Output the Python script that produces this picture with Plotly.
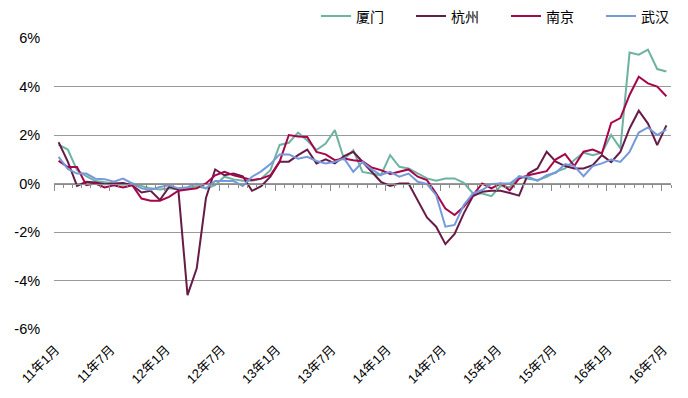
import plotly.graph_objects as go

months = [f"{y}年{m}月" for y in range(11, 17) for m in range(1, 13)][:67]

xiamen = [1.6, 1.4, 0.55, 0.3, 0.1, 0.05, 0.0, -0.05, 0.0, -0.1, -0.2, -0.25,
          -0.2, -0.25, -0.2, -0.1, -0.2, -0.07, 0.28, 0.17, 0.11, 0.11, 0.2, 0.55,
          1.59, 1.68, 2.1, 1.77, 1.38, 1.65, 2.2, 1.0, 1.37, 0.48, 0.41, 0.34,
          1.17, 0.69, 0.62, 0.41, 0.21, 0.11, 0.21, 0.21, 0.03, -0.41, -0.41, -0.52,
          -0.1, -0.15, 0.3, 0.2, 0.14, 0.28, 0.48, 0.62, 0.97, 1.27, 1.17, 1.27,
          2.0, 1.45, 5.4, 5.31, 5.52, 4.72, 4.62]
hangzhou = [1.7, 0.9, -0.1, 0.07, 0.04, -0.03, 0.0, 0.02, -0.07, -0.37, -0.3, -0.68,
            -0.14, -0.25, -4.6, -3.5, -0.6, 0.58, 0.34, 0.41, 0.3, -0.3, -0.11, 0.28,
            0.9, 0.9, 1.17, 1.4, 0.83, 1.0, 0.83, 1.13, 1.31, 0.9, 0.48, 0.07,
            -0.1, 0.0, 0.0, -0.68, -1.4, -1.78, -2.5, -2.08, -1.23, -0.52, -0.34, -0.3,
            -0.3, -0.39, -0.5, 0.41, 0.62, 1.31, 0.9, 0.72, 0.62, 0.62, 0.76, 1.17,
            0.88, 1.3, 2.27, 3.0, 2.47, 1.58, 2.4]
nanjing = [0.93, 0.68, 0.68, -0.07, 0.0, -0.16, -0.07, -0.16, -0.07, -0.62, -0.71, -0.71,
           -0.55, -0.3, -0.25, -0.2, 0.0, 0.34, 0.48, 0.34, 0.25, 0.14, 0.2, 0.34,
           0.9, 2.0, 1.94, 1.92, 1.3, 1.2, 0.96, 1.03, 0.96, 0.92, 0.66, 0.55,
           0.39, 0.48, 0.58, 0.28, 0.14, -0.41, -1.03, -1.3, -0.96, -0.48, 0.0, -0.2,
           0.0, -0.28, 0.2, 0.34, 0.44, 0.51, 1.0, 1.21, 0.72, 1.31, 1.4, 1.24,
           2.5, 2.7, 3.65, 4.4, 4.13, 4.0, 3.6]
wuhan = [1.1, 0.6, 0.41, 0.41, 0.2, 0.18, 0.07, 0.2, 0.0, -0.2, -0.27, -0.14,
         -0.07, -0.2, -0.15, 0.0, -0.2, 0.1, 0.1, 0.1, -0.1, 0.28, 0.5, 0.8,
         1.2, 1.2, 1.02, 1.1, 0.93, 0.83, 0.9, 1.03, 0.48, 0.89, 0.58, 0.35,
         0.48, 0.28, 0.41, 0.07, -0.02, -0.48, -1.78, -1.71, -0.89, -0.41, -0.27, -0.02,
         0.0, 0.0, 0.28, 0.28, 0.11, 0.34, 0.44, 0.8, 0.72, 0.3, 0.72, 0.83,
         0.99, 0.89, 1.3, 2.1, 2.31, 2.0, 2.23]

series = [("厦门", xiamen, "#6DB3A1"), ("杭州", hangzhou, "#661C47"),
          ("南京", nanjing, "#A6064C"), ("武汉", wuhan, "#7599DB")]

yticks = [-6, -4, -2, 0, 2, 4, 6]
ylabels = [f"{v}%" for v in yticks]
label_idx = list(range(0, 67, 6))

idx = list(range(len(months)))
fig = go.Figure()
# invisible trace to activate the zero-line axis (xaxis2)
fig.add_trace(go.Scatter(x=[idx[0]], y=[0], xaxis="x2", mode="markers",
                         marker=dict(opacity=0), showlegend=False, hoverinfo="skip"))
for name, vals, col in series:
    fig.add_trace(go.Scatter(x=idx, y=vals, mode="lines", name=name,
                             line=dict(color=col, width=2)))

font_stack = "Liberation Sans, Arial, Noto Sans CJK SC"
fig.update_layout(
    width=688, height=398,
    margin=dict(l=46, r=25, t=30, b=77, autoexpand=False),
    paper_bgcolor="white", plot_bgcolor="white",
    font=dict(family=font_stack, color="black"),
    showlegend=True,
    legend=dict(orientation="h", xref="paper", yref="paper",
                x=0.4246, y=1.074, xanchor="left", yanchor="middle",
                entrywidth=50, font=dict(size=14, family="Noto Sans CJK SC"),
                bgcolor="rgba(0,0,0,0)", tracegroupgap=0),
    xaxis=dict(range=[-0.5, 66.5], tickmode="array", tickvals=label_idx,
               ticktext=[months[i] for i in label_idx], tickangle=-45,
               showgrid=False, zeroline=False, showline=False,
               ticks="outside", ticklen=7, tickcolor="rgba(0,0,0,0)",
               ticklabelshift=-3,
               tickfont=dict(size=13, family=font_stack)),
    xaxis2=dict(range=[-0.5, 66.5], overlaying="x", anchor="free", position=0.5,
                side="bottom", showline=True, linecolor="#8c8c8c", linewidth=1,
                tickmode="linear", tick0=-0.5, dtick=6, ticks="outside",
                ticklen=6, tickcolor="#8c8c8c", showticklabels=False,
                showgrid=False, zeroline=False,
                minor=dict(dtick=1, tick0=-0.5, ticks="outside", ticklen=3,
                           tickcolor="#8c8c8c", showgrid=False)),
    yaxis=dict(range=[-6, 6], tickmode="array", tickvals=yticks, ticktext=ylabels,
               showgrid=True, gridcolor="#9a9a9a", gridwidth=1, zeroline=False,
               showline=False, ticks="outside", ticklen=10,
               tickcolor="rgba(0,0,0,0)",
               tickfont=dict(size=14.5, family=font_stack)),
)
fig.write_html("out.html")
